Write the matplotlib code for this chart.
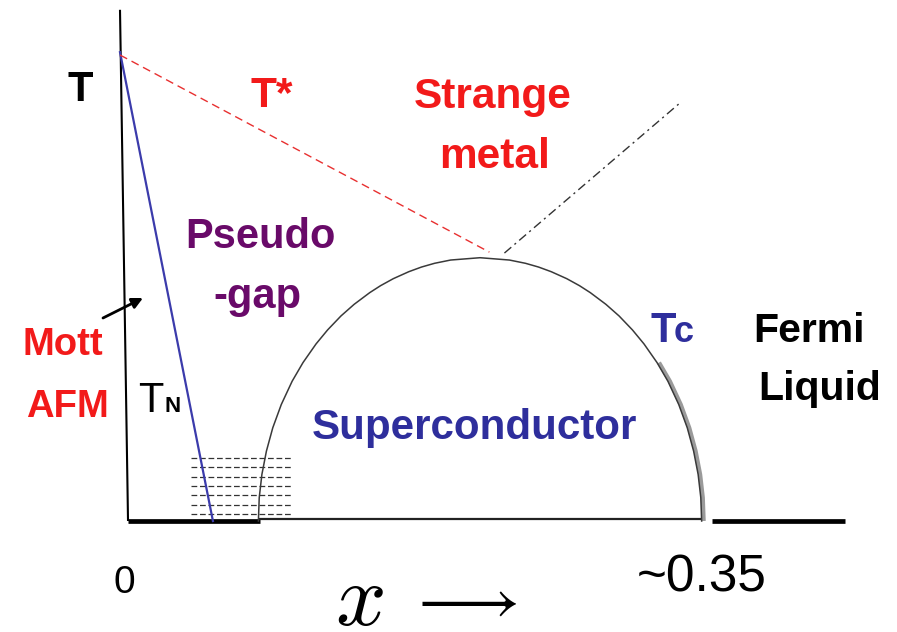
import matplotlib
matplotlib.use("Agg")
import matplotlib.pyplot as plt
import matplotlib.transforms as mtransforms

# ---- phase boundaries (doping x, temperature T in arbitrary units) ----
dome_x = [0.0828, 0.0833, 0.0849, 0.0876, 0.0914, 0.0965, 0.1030, 0.1095,
          0.1173, 0.1242, 0.1322, 0.1401, 0.1494, 0.1559, 0.1635, 0.1728,
          0.1804, 0.1882, 0.1978, 0.2154,
          0.2330, 0.2426, 0.2504, 0.2580, 0.2673, 0.2749, 0.2814, 0.2907,
          0.2986, 0.3066, 0.3135, 0.3213, 0.3278, 0.3343, 0.3394, 0.3432,
          0.3459, 0.3475, 0.3480]
dome_T = [0.0, 0.05, 0.10, 0.15, 0.20, 0.25, 0.30, 0.34,
          0.38, 0.41, 0.44, 0.465, 0.49, 0.505, 0.52, 0.535,
          0.545, 0.553, 0.56, 0.565,
          0.56, 0.553, 0.545, 0.535, 0.52, 0.505, 0.49, 0.465,
          0.44, 0.41, 0.38, 0.34, 0.30, 0.25, 0.20, 0.15,
          0.10, 0.05, 0.0]

neel_x = [0.0, 0.0556]          # T_N line
neel_T = [1.006, 0.0]

pseudogap_x = [0.0, 0.221]      # T* line
pseudogap_T = [1.0, 0.577]

crossover_x = [0.230, 0.335]    # strange metal / Fermi liquid crossover
crossover_T = [0.575, 0.897]

axis_x = [0.0, 0.0048]          # temperature axis
axis_T = [1.097, 0.0]

base_left_x = [0.0048, 0.0838]
base_mid_x = [0.0826, 0.348]
base_right_x = [0.354, 0.434]

stripe_x = [0.0425, 0.1029]     # striped / glassy region
stripe_T = [0.135, 0.115, 0.095, 0.075, 0.055, 0.035, 0.015]

# ---- figure ----
W, H = 897, 632
plt.rcParams["mathtext.fontset"] = "cm"
fig = plt.figure(figsize=(W / 100, H / 100), dpi=100)
ax = fig.add_axes([0, 0, 1, 1])
sx, sy = 1671.4, 466.0           # pixels per unit of x and of T
x0p, y0p = 120.0, 521.0
ax.set_xlim(-x0p / sx, (W - x0p) / sx)
ax.set_ylim((y0p - H) / sy, y0p / sy)
ax.axis("off")


def pos(xp, yp):
    """Layout helper: pixel position -> data position."""
    return (xp - x0p) / sx, (y0p - yp) / sy


BLUE = "#2e2e9c"
RED = "#f21a1a"
PURPLE = "#690a69"

# axis and baseline
ax.plot(axis_x, axis_T, color="black", lw=1.5, solid_capstyle="butt")
ax.plot(base_left_x, [0, 0], color="black", lw=3.4, solid_capstyle="butt")
ax.plot(base_mid_x, [0.004, 0.004], color="#222222", lw=1.6, solid_capstyle="butt")
ax.plot(base_right_x, [0, 0], color="black", lw=3.4, solid_capstyle="butt")

# stripes
for t in stripe_T:
    ax.plot(stripe_x, [t, t], color="#333333", lw=0.9, dashes=(4.6, 2.2))

# superconducting dome with shaded lower-right edge
shadow = mtransforms.offset_copy(ax.transData, fig=fig, x=2, y=0, units="dots")
sh_x = [x for x, t in zip(dome_x, dome_T) if x > 0.3 and t <= 0.35]
sh_T = [t for x, t in zip(dome_x, dome_T) if x > 0.3 and t <= 0.35]
ax.plot(sh_x, sh_T, color="#9a9a9a", lw=3.0, transform=shadow,
        solid_capstyle="butt", solid_joinstyle="round", zorder=1)
ax.plot(dome_x, dome_T, color="#3a3a3a", lw=1.1, zorder=2,
        solid_joinstyle="round")

# crossover lines
ax.plot(neel_x, neel_T, color="#3b3bab", lw=1.6)
ax.plot(pseudogap_x, pseudogap_T, color="#e83030", lw=1.0, dashes=(5.8, 3.6))
ax.plot(crossover_x, crossover_T, color="#333333", lw=1.0,
        dashes=(6.5, 3, 1.5, 3))

# arrow from the Mott AFM label
ax.annotate("", xy=pos(143, 298), xytext=pos(103, 318),
            arrowprops=dict(arrowstyle="-|>", color="black", lw=2.0,
                            mutation_scale=16, shrinkA=0, shrinkB=0))

SANS = ["Liberation Sans", "DejaVu Sans"]


def label(xp, yp, s, color, size, ha="center", weight="bold"):
    ax.text(*pos(xp, yp), s, color=color, fontsize=size, ha=ha,
            va="baseline", fontweight=weight, family=SANS)


label(80, 101, "T", "black", 30)
label(250, 107, "T*", RED, 30.5, ha="left")
label(493, 108, "Strange", RED, 30.5)
label(495, 168, "metal", RED, 30.5)
label(260, 248, "Pseudo", PURPLE, 30)
label(257, 308, "-gap", PURPLE, 30)
label(63, 355, "Mott", RED, 27.5)
label(67, 417, "AFM", RED, 27.5)
label(138, 412, "T", "black", 30, ha="left", weight="normal")
label(164, 412, "N", "black", 16, ha="left")
label(650, 342, "T", BLUE, 30, ha="left")
label(674, 342, "c", BLUE, 26, ha="left")
label(809, 342, "Fermi", "black", 29.5)
label(820, 400, "Liquid", "black", 29.5)
label(474, 439, "Superconductor", BLUE, 30.3)

label(124, 593, "0", "black", 28, weight="normal")
label(702, 591, "~0.35", "black", 37, weight="normal")

# doping axis label
ax.text(*pos(359, 625), r"$x$", fontsize=64, ha="center",
        va="baseline", color="black")
ax.text(*pos(462, 619), r"$\longrightarrow$", fontsize=46, ha="center",
        va="baseline", color="black")

fig.savefig("out.png", dpi=100)
